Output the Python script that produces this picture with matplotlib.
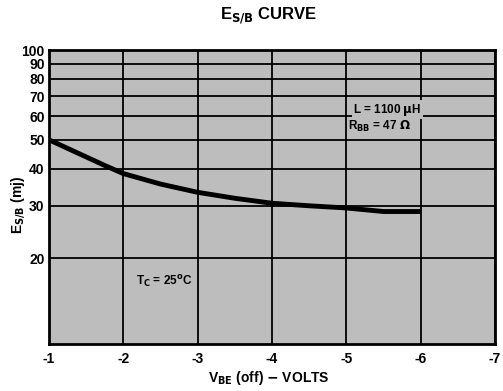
import numpy as np
import matplotlib.pyplot as plt

plt.rcParams['font.family'] = ['Liberation Sans Narrow', 'Liberation Sans', 'DejaVu Sans']
plt.rcParams['font.weight'] = 'bold'
plt.rcParams['mathtext.fontset'] = 'custom'
plt.rcParams['mathtext.rm'] = 'Liberation Sans Narrow:bold'
plt.rcParams['mathtext.bf'] = 'Liberation Sans Narrow:bold'
plt.rcParams['mathtext.it'] = 'Liberation Sans Narrow:bold'

# curve
vbe = [-1, -1.25, -1.5, -1.75, -2, -2.5, -3, -3.5, -4, -4.5, -5, -5.5, -6]
esb = [50, 46.8, 43.8, 41.0, 38.5, 35.5, 33.3, 31.8, 30.6, 30.0, 29.5, 28.7, 28.7]

xticks = [-1, -2, -3, -4, -5, -6, -7]
yticks = [20, 30, 40, 50, 60, 70, 80, 90, 100]

bg = '#bdbdbd'

fig = plt.figure(figsize=(5.03, 3.91), dpi=100)
ax = fig.add_axes([0.097, 0.12, 0.887, 0.752])
ax.set_facecolor(bg)

ax.set_yscale('log')
ax.set_ylim(10.3, 100)
ax.set_xlim(-1, -7)

for y in yticks:
    ax.axhline(y, color='black', lw=1.3, zorder=1)
for x in xticks:
    ax.axvline(x, color='black', lw=1.3, zorder=1)

ax.plot(vbe, esb, color='black', lw=3.5, solid_capstyle='butt', zorder=3)

ax.set_xticks(xticks)
ax.set_xticklabels([str(t) for t in xticks])
ax.set_yticks(yticks)
ax.set_yticklabels([str(t) for t in yticks])
ax.yaxis.set_minor_locator(plt.NullLocator())
ax.tick_params(length=0, labelsize=10, pad=6)
ax.tick_params(axis='y', pad=3)
for s in ax.spines.values():
    s.set_linewidth(2)

ax.text(-5.55, 63, r'L = 1100 $\mu$H', ha='center', va='center', fontsize=8.5,
        bbox=dict(facecolor=bg, edgecolor='none', pad=1), zorder=4)
ax.text(-5.45, 55.5, r'R$_{\mathrm{BB}}$ = 47 $\Omega$', ha='center', va='center', fontsize=8.5,
        bbox=dict(facecolor=bg, edgecolor='none', pad=1), zorder=4)
ax.text(-2.55, 16.6, r'T$_{\mathrm{C}}$ = 25$^{\mathrm{o}}$C', ha='center', va='center', fontsize=8.5, zorder=4)

fig.text(0.535, 0.96, r'E$_{\mathrm{S/B}}$ CURVE', ha='center', va='center', fontsize=12)
fig.text(0.036, 0.475, r'E$_{\mathrm{S/B}}$ (mj)', ha='center', va='center', rotation=90, fontsize=10)
fig.text(0.535, 0.033, r'V$_{\mathrm{BE}}$ (off) $-$ VOLTS', ha='center', va='center', fontsize=10)

fig.savefig('out.png', dpi=100)
